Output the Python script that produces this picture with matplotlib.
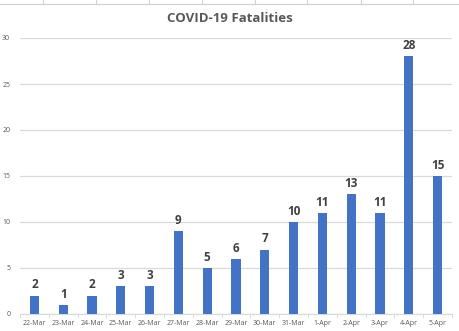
import matplotlib
matplotlib.use("Agg")
import matplotlib.pyplot as plt
from matplotlib.lines import Line2D

dates = ["22-Mar", "23-Mar", "24-Mar", "25-Mar", "26-Mar", "27-Mar", "28-Mar", "29-Mar",
         "30-Mar", "31-Mar", "1-Apr", "2-Apr", "3-Apr", "4-Apr", "5-Apr"]
deaths = [2, 1, 2, 3, 3, 9, 5, 6, 7, 10, 11, 13, 11, 28, 15]
yticks = [0, 5, 10, 15, 20, 25, 30]

plt.rcParams["font.family"] = ["Open Sans", "DejaVu Sans"]

fig = plt.figure(figsize=(4.6, 3.31), dpi=100)
ax = fig.add_axes([20 / 460, 1 - 314 / 331, 432 / 460, 276 / 331])

x = list(range(len(dates)))
ax.bar(x, deaths, width=0.32, color="#4472C4", zorder=3)
for xi, v in zip(x, deaths):
    ax.annotate(str(v), (xi, v), xytext=(0, 3), textcoords="offset points",
                ha="center", va="bottom", fontsize=8.5, fontweight="bold", color="#404040")

ax.set_xlim(-0.5, len(dates) - 0.5)
ax.set_ylim(0, 30)
ax.set_yticks(yticks)
ax.set_yticklabels([str(t) for t in yticks])
ax.set_xticks(x)
ax.set_xticklabels(dates)
ax.set_xticks([i - 0.5 for i in range(len(dates) + 1)], minor=True)
ax.tick_params(axis="x", which="major", length=0, labelsize=5, labelcolor="#595959", pad=4)
ax.tick_params(axis="x", which="minor", length=3, color="#D9D9D9", direction="out")
ax.tick_params(axis="y", length=0, labelsize=5, labelcolor="#595959", pad=7)
ax.grid(axis="y", color="#D9D9D9", lw=0.9, zorder=0)
for s in ("top", "right", "left"):
    ax.spines[s].set_visible(False)
ax.spines["bottom"].set_color("#D9D9D9")

fig.text(230 / 460, 1 - 19 / 331, "COVID-19 Fatalities", ha="center", va="center",
         fontsize=9.5, fontweight="bold", color="#595959")

# spreadsheet cell borders peeking above the chart
fig.add_artist(Line2D([0, 1], [1 - 4 / 331] * 2, color="#D0D0D0", lw=0.8))
for px in [43, 96, 149, 202, 255, 307, 361, 413]:
    fig.add_artist(Line2D([px / 460] * 2, [1 - 4 / 331, 1], color="#D0D0D0", lw=0.8))

fig.savefig("out.png", dpi=100)
